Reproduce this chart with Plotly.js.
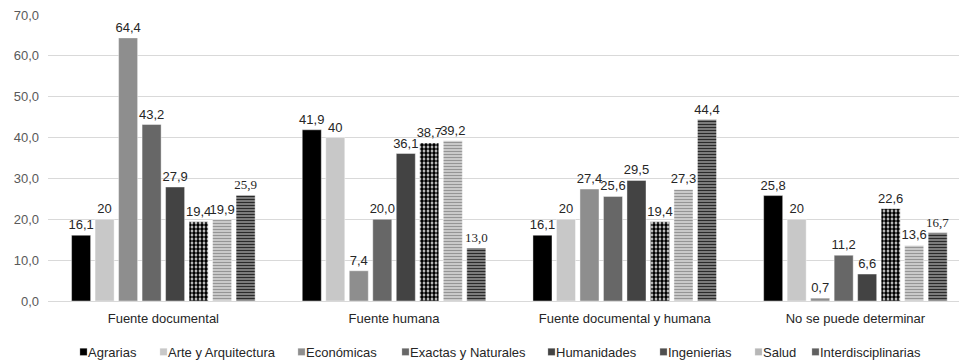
<!DOCTYPE html>
<html>
<head>
<meta charset="utf-8">
<script src="https://cdn.plot.ly/plotly-3.0.1.min.js"></script>
<style>
  html, body { margin: 0; padding: 0; background: #fff; }
  #chart { width: 959px; height: 362px; }
</style>
</head>
<body>
<div id="chart"></div>
<script>
// Distribución porcentual por tipo de fuente y área de conocimiento
const categories = ['Fuente documental', 'Fuente humana', 'Fuente documental y humana', 'No se puede determinar'];

const agrarias            = [16.1, 41.9, 16.1, 25.8];
const arteArquitectura    = [20, 40, 20, 20];
const economicas          = [64.4, 7.4, 27.4, 0.7];
const exactasNaturales    = [43.2, 20.0, 25.6, 11.2];
const humanidades         = [27.9, 36.1, 29.5, 6.6];
const ingenierias         = [19.4, 38.7, 19.4, 22.6];
const salud               = [19.9, 39.2, 27.3, 13.6];
const interdisciplinarias = [25.9, 13.0, 44.4, 16.7];

const yTicks = [0, 10, 20, 30, 40, 50, 60, 70];

// Number label in Spanish notation (comma as decimal separator)
function fmt(v, decimals) {
  return (decimals === null ? String(v) : v.toFixed(decimals)).replace('.', ',');
}

const SANS = 'Liberation Sans, Arial, sans-serif';
const SERIF = 'Liberation Serif, Times New Roman, serif';

const series = [
  { name: 'Agrarias', y: agrarias, dec: 1, marker: { color: '#000000' } },
  { name: 'Arte y Arquitectura', y: arteArquitectura, dec: null, marker: { color: '#c8c8c8' } },
  { name: 'Económicas', y: economicas, dec: 1, marker: { color: '#8e8e8e' } },
  { name: 'Exactas y Naturales', y: exactasNaturales, dec: 1, marker: { color: '#676767' } },
  { name: 'Humanidades', y: humanidades, dec: 1, marker: { color: '#434343' } },
  { name: 'Ingenierias', y: ingenierias, dec: 1,
    marker: { color: '#ffffff', pattern: { shape: '.', fgcolor: '#000000', bgcolor: '#ffffff', size: 4, solidity: 0.7 } } },
  { name: 'Salud', y: salud, dec: 1,
    marker: { color: '#cccccc', pattern: { shape: '-', fgcolor: '#959595', bgcolor: '#dadada', size: 3, solidity: 0.5 } } },
  { name: 'Interdisciplinarias', y: interdisciplinarias, dec: 1,
    marker: { color: '#777777', pattern: { shape: '-', fgcolor: '#2a2a2a', bgcolor: '#959595', size: 3, solidity: 0.5 } },
    fonts: [SERIF, SERIF, SANS, SERIF] }
];

// Legend entries are placed one by one along the bottom row (pixel x of each entry's text start)
const legendTextStart = [88, 168, 306, 410, 556, 668, 763, 820];
const M_L = 48, PLOT_W = 911;

const traces = series.map((s, i) => ({
  type: 'bar',
  name: s.name,
  x: categories,
  y: s.y,
  text: s.y.map(v => fmt(v, s.dec)),
  textposition: 'outside',
  constraintext: 'none',
  cliponaxis: false,
  textangle: 0,
  textfont: { family: s.fonts || SANS, size: 13, color: '#262626' },
  marker: Object.assign({ line: { color: 'rgba(255,255,255,0.7)', width: 0.6 } }, s.marker),
  hoverinfo: 'x+y+name',
  legend: i === 0 ? 'legend' : 'legend' + (i + 1)
}));

const layout = {
  width: 959,
  height: 362,
  margin: { l: M_L, r: 0, t: 15, b: 61, autoexpand: false },
  paper_bgcolor: '#ffffff',
  plot_bgcolor: '#ffffff',
  separators: ',.',
  barmode: 'group',
  bargap: 0.185,
  bargroupgap: 0.19,
  font: { family: SANS, size: 13, color: '#404040' },
  xaxis: {
    type: 'category',
    range: [-0.5, 3.449],
    automargin: false,
    showgrid: false,
    showline: true,
    linecolor: '#d9d9d9',
    linewidth: 1,
    ticks: '',
    ticklabelstandoff: 5,
    tickfont: { family: SANS, size: 13, color: '#262626' },
    fixedrange: true
  },
  yaxis: {
    range: [0, 70],
    automargin: false,
    tickvals: yTicks,
    tickformat: '.1f',
    showgrid: true,
    gridcolor: '#d9d9d9',
    gridwidth: 1,
    zeroline: false,
    showline: false,
    ticks: '',
    ticklabelstandoff: 8,
    tickfont: { family: SANS, size: 13, color: '#595959' },
    fixedrange: true
  },
  showlegend: true
};

legendTextStart.forEach((px, i) => {
  const key = i === 0 ? 'legend' : 'legend' + (i + 1);
  layout[key] = {
    orientation: 'h',
    x: (px - 40 - M_L) / PLOT_W,
    xanchor: 'left',
    y: -0.178,
    yanchor: 'middle',
    bgcolor: 'rgba(0,0,0,0)',
    borderwidth: 0,
    itemclick: false,
    itemdoubleclick: false,
    font: { family: SANS, size: 13, color: '#262626' }
  };
});

// Small legend keys sitting right next to their labels
function compactLegendKeys() {
  document.querySelectorAll('#chart .legendpoints path').forEach(p => {
    const b = p.getBBox();
    if (!b.width) return;
    const cx = b.x + b.width / 2, cy = b.y + b.height / 2;
    const base = p.getAttribute('transform') || '';
    p.setAttribute('transform',
      base + ' translate(' + (cx + 15.5) + ',' + cy + ') scale(0.6) translate(' + (-cx) + ',' + (-cy) + ')');
  });
}

Plotly.newPlot('chart', traces, layout, { displayModeBar: false, staticPlot: true })
  .then(compactLegendKeys);
</script>
</body>
</html>
